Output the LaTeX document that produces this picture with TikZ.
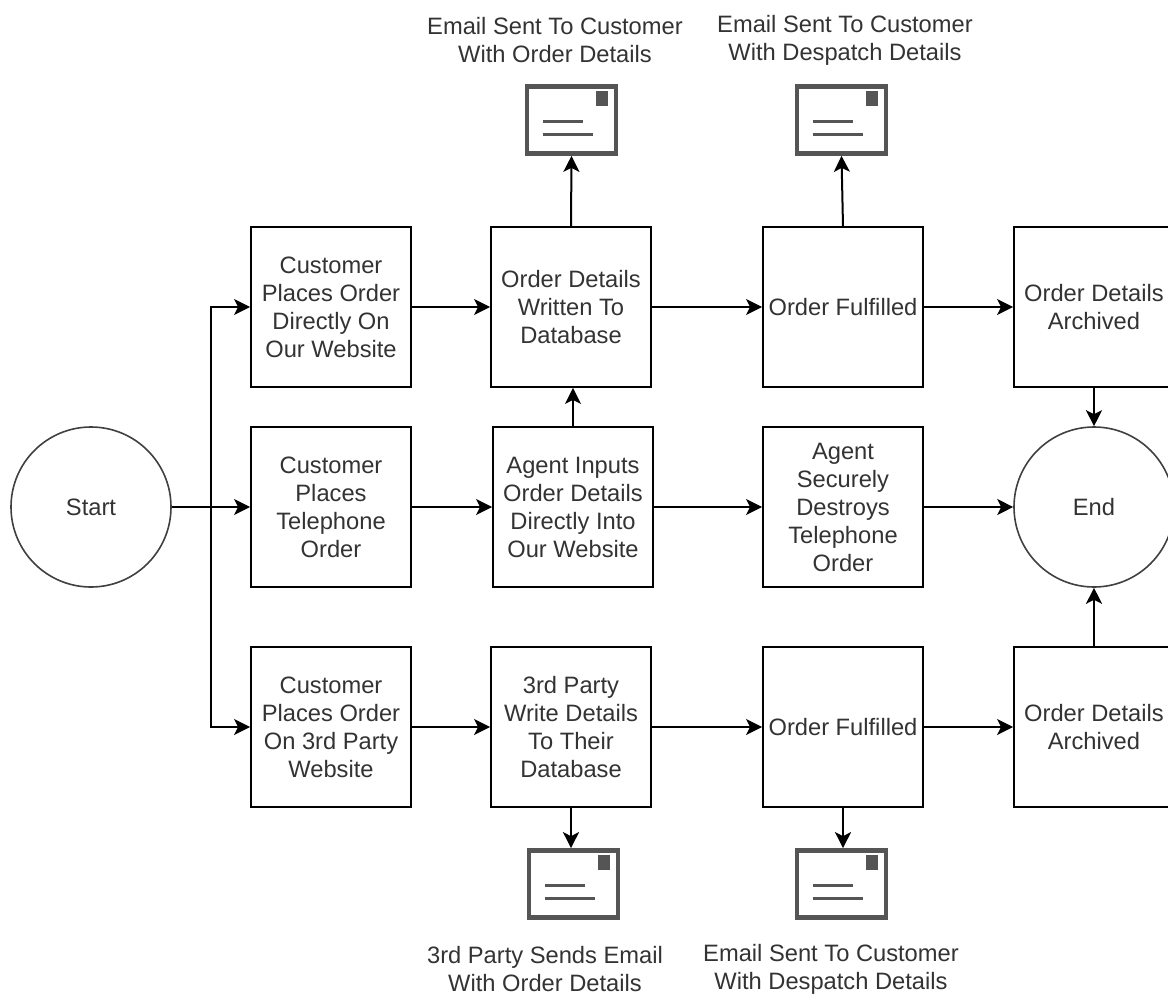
\documentclass[tikz,border=0pt]{standalone}
\usepackage{fontspec}
\setmainfont{Liberation Sans}
\usetikzlibrary{arrows.meta}
\definecolor{txt}{HTML}{333333}
\definecolor{env}{HTML}{555555}
\tikzset{x=1pt,y=-1pt,
 lab/.style={align=center,font=\fontsize{23.7}{28}\selectfont,text=txt,inner sep=0pt},
 boxn/.style={draw=black,line width=1.8pt,fill=white,minimum width=160pt,minimum height=160pt,inner sep=0pt,align=center,font=\fontsize{23.7}{28}\selectfont,text=txt},
 circn/.style={draw=black!75,line width=1.6pt,fill=white,circle,minimum size=160pt,inner sep=0pt,font=\fontsize{23.7}{28}\selectfont,text=txt},
 conn/.style={draw=black,line width=2pt,-{Stealth[length=16pt,width=16pt,inset=4pt]}},
 envbox/.style={draw=env,line width=4.7pt,fill=white,minimum width=89pt,minimum height=67pt,inner sep=0pt},
}
\newcommand{\envicon}[1]{%
 \fill[env] ([shift={(71.5pt,-7pt)}]#1.north west) rectangle ([shift={(83pt,-22pt)}]#1.north west);
 \draw[env,line width=3.6pt] ([shift={(18pt,-37.5pt)}]#1.north west) -- ([shift={(58pt,-37.5pt)}]#1.north west);
 \draw[env,line width=3.6pt] ([shift={(18pt,-50.5pt)}]#1.north west) -- ([shift={(68pt,-50.5pt)}]#1.north west);
}
\begin{document}
\begin{tikzpicture}
\useasboundingbox (0,0) rectangle (1168,996);
\clip (0,0) rectangle (1168,996);
\fill[white] (0,0) rectangle (1168,996);
\node[circn] (start) at (91,507) {Start};
\node[circn] (end) at (1094,507) {End};
\node[boxn] (a1) at (331,307) {Customer\\Places Order\\Directly On\\Our Website};
\node[boxn] (a2) at (571,307) {Order Details\\Written To\\Database};
\node[boxn] (a3) at (843,307) {Order Fulfilled};
\node[boxn] (a4) at (1094,307) {Order Details\\Archived};
\node[boxn] (b1) at (331,507) {Customer\\Places\\Telephone\\Order};
\node[boxn] (b2) at (573,507) {Agent Inputs\\Order Details\\Directly Into\\Our Website};
\node[boxn] (b3) at (843,507) {Agent\\Securely\\Destroys\\Telephone\\Order};
\node[boxn] (c1) at (331,727) {Customer\\Places Order\\On 3rd Party\\Website};
\node[boxn] (c2) at (571,727) {3rd Party\\Write Details\\To Their\\Database};
\node[boxn] (c3) at (843,727) {Order Fulfilled};
\node[boxn] (c4) at (1094,727) {Order Details\\Archived};
\node[envbox] (e1) at (571.5,120) {};
\node[envbox] (e2) at (841.5,120) {};
\node[envbox] (e3) at (573.5,884) {};
\node[envbox] (e4) at (841.5,884) {};
\envicon{e1}\envicon{e2}\envicon{e3}\envicon{e4}
\node[lab] (t1) at (555,40) {Email Sent To Customer\\With Order Details};
\node[lab] (t2) at (845,40) {Email Sent To Customer\\With Despatch Details};
\node[lab] (t3) at (545,969.5) {3rd Party Sends Email\\With Order Details};
\node[lab] (t4) at (831,969.5) {Email Sent To Customer\\With Despatch Details};
\coordinate (j) at (211,507);
\draw[conn] (start) -- (b1);
\draw[conn] (j) |- (a1.west);
\draw[conn] (j) |- (c1.west);
\draw[conn] (a1) -- (a2);
\draw[conn] (a2) -- (a3);
\draw[conn] (a3) -- (a4);
\draw[conn] (b1) -- (b2);
\draw[conn] (b2) -- (b3);
\draw[conn] (b3) -- (end);
\draw[conn] (c1) -- (c2);
\draw[conn] (c2) -- (c3);
\draw[conn] (c3) -- (c4);
\draw[conn] (a4) -- (end);
\draw[conn] (c4) -- (end);
\draw[conn] (a2.north) -- (e1.south);
\draw[conn] (a3.north) -- (e2.south);
\draw[conn] (b2.north) -- (a2.south -| b2.north);
\draw[conn] (c2.south) -- (c2.south |- e3.north);
\draw[conn] (c3.south) -- (c3.south |- e4.north);
\end{tikzpicture}
\end{document}
